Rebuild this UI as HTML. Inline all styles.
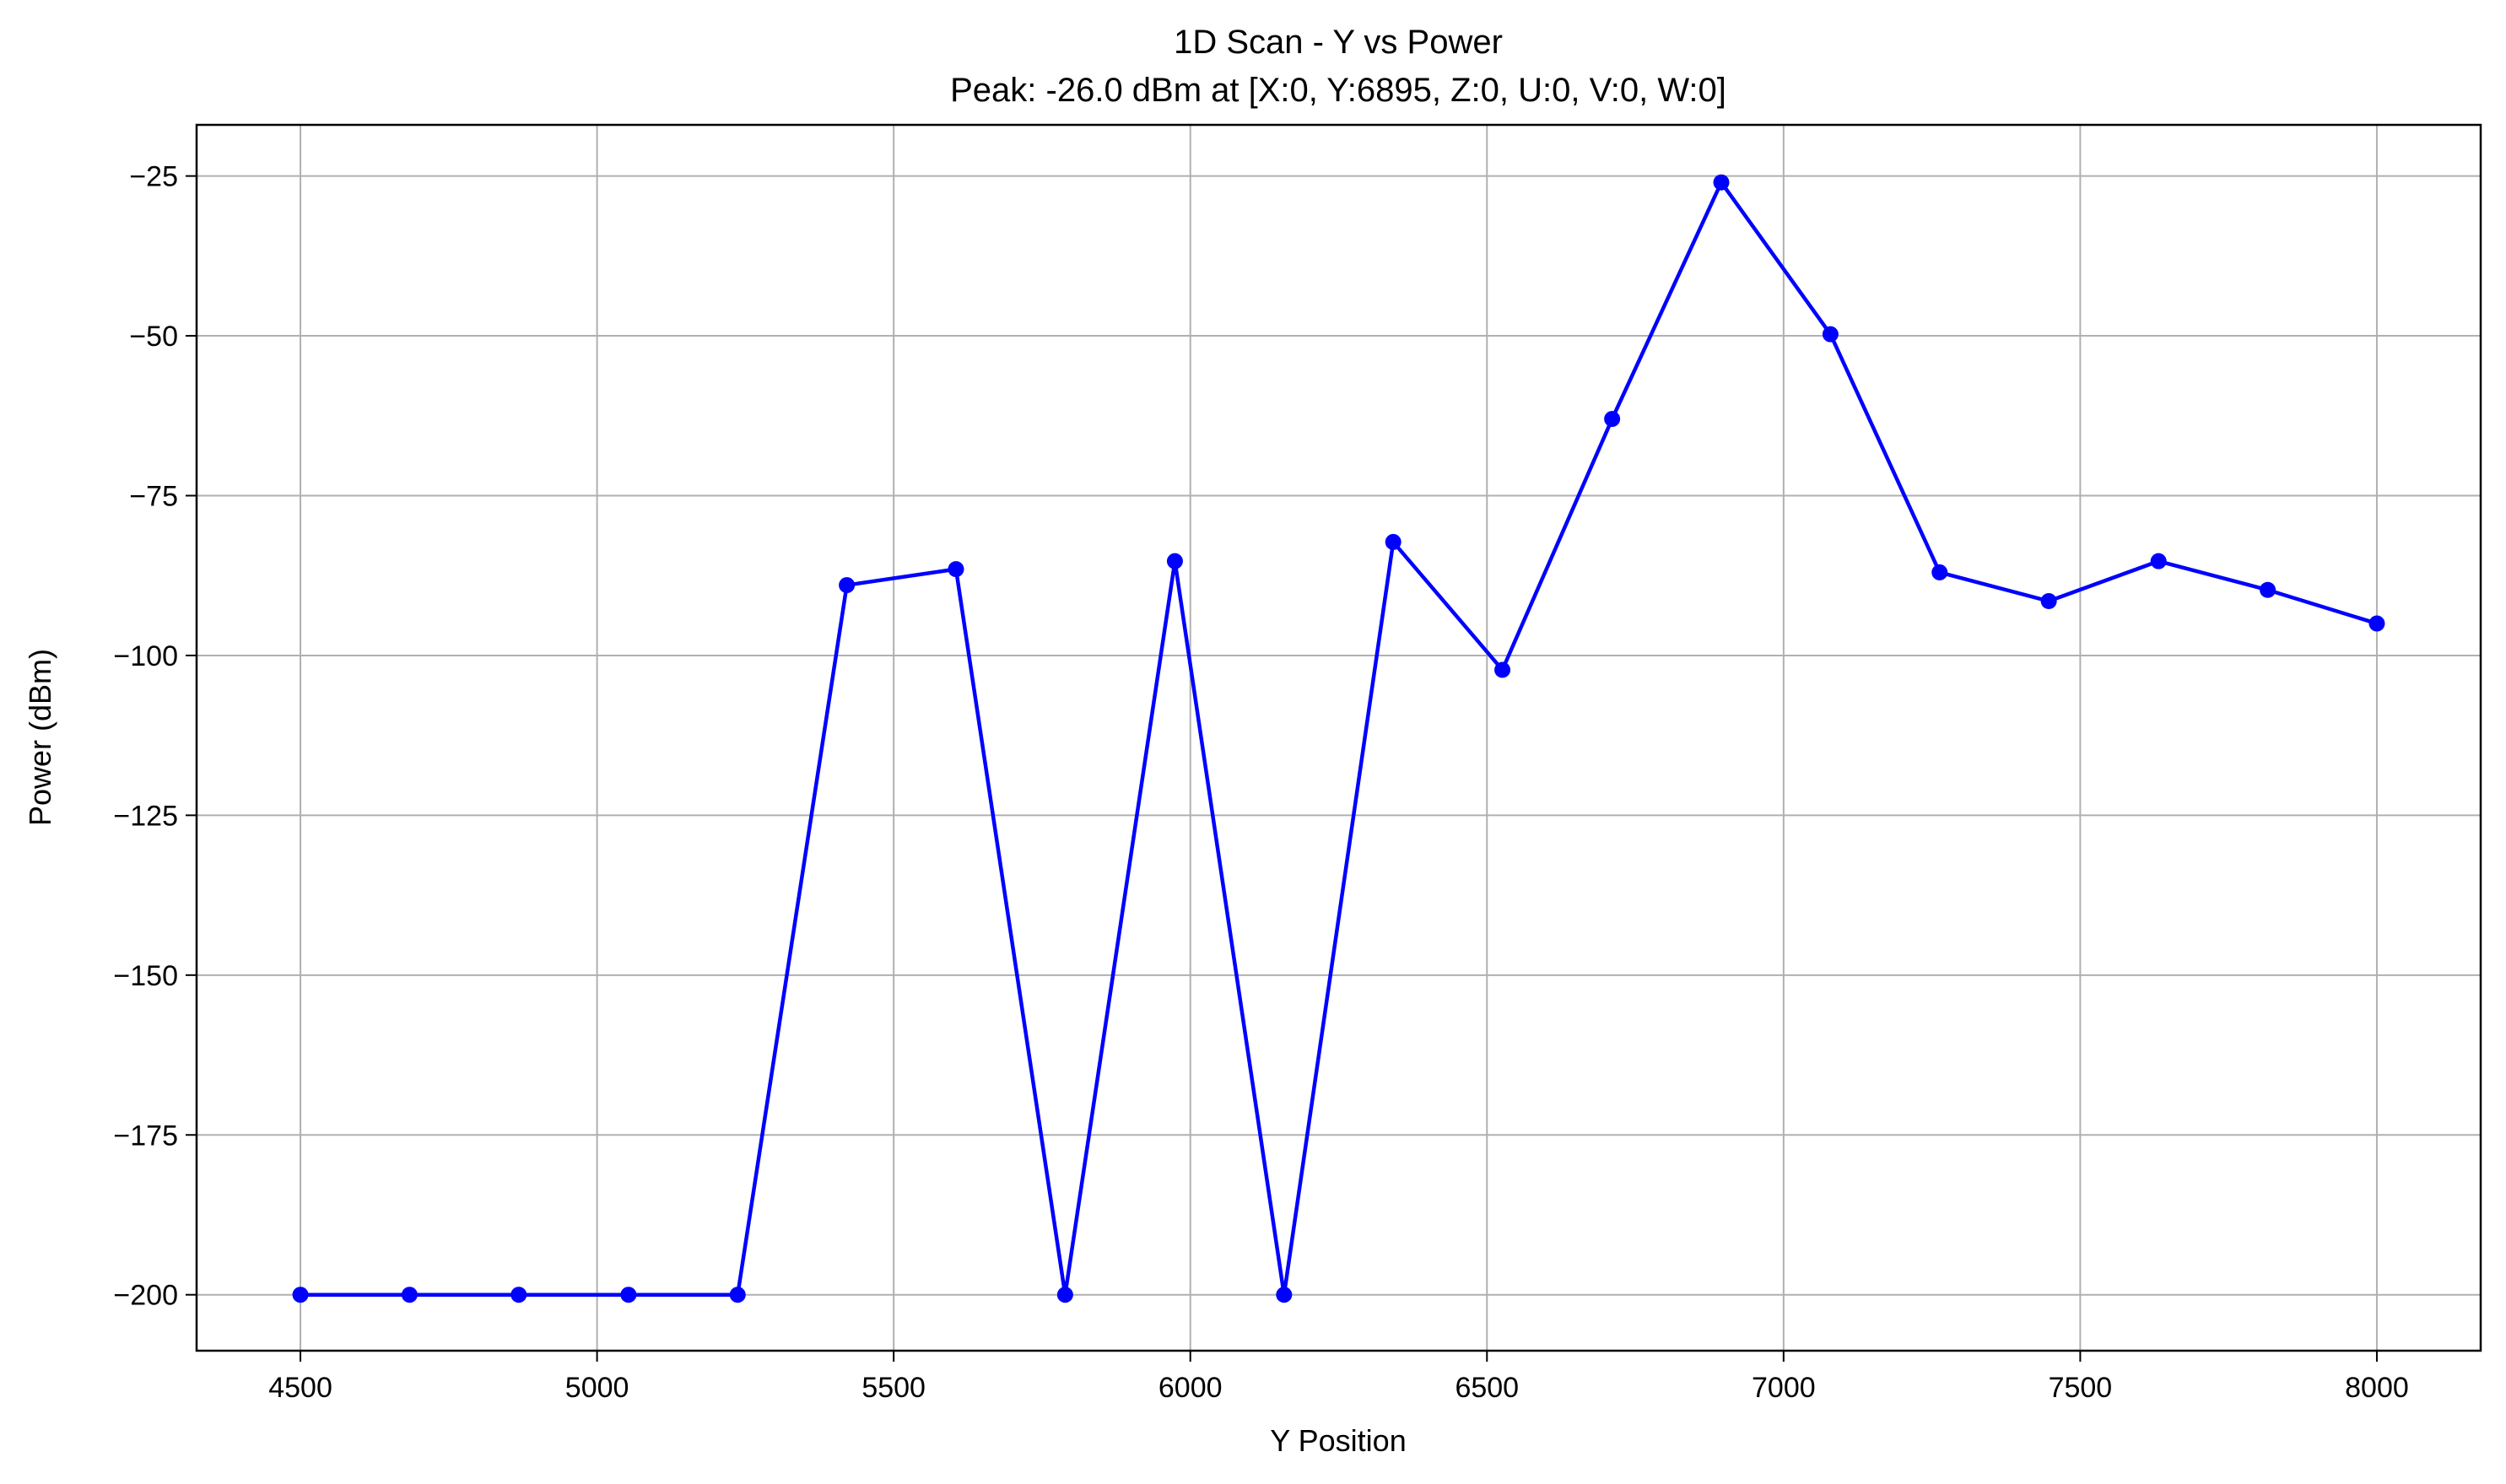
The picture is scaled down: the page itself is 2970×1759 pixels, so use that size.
<!DOCTYPE html>
<html><head><meta charset="utf-8"><style>
html,body{margin:0;padding:0;background:#fff;}
svg{display:block;font-family:"Liberation Sans","DejaVu Sans",sans-serif;}
</style></head><body>
<svg id="chart" width="2970" height="1759" viewBox="0 0 2970 1759" xmlns="http://www.w3.org/2000/svg">
<rect width="2970" height="1759" fill="#fff"/>
<text x="1586" y="63" font-size="40" text-anchor="middle" fill="#000">1D Scan - Y vs Power</text>
<text x="1586" y="120" font-size="40" text-anchor="middle" fill="#000">Peak: -26.0 dBm at [X:0, Y:6895, Z:0, U:0, V:0, W:0]</text>
<g id="grid"></g>
<g id="series"></g>
<rect x="233" y="148" width="2707" height="1453" fill="none" stroke="#000" stroke-width="2.5"/>
<g id="ticks"></g>
<text x="1586" y="1720" font-size="36" text-anchor="middle" fill="#000">Y Position</text>
<text x="60" y="874" font-size="36" text-anchor="middle" fill="#000" transform="rotate(-90 60 874)">Power (dBm)</text>
</svg>
<script>
const positions = [4500,4684,4868,5053,5237,5421,5605,5789,5974,6158,6342,6526,6711,6895,7079,7263,7447,7632,7816,8000];
const power = [-200,-200,-200,-200,-200,-89,-86.5,-200,-85.25,-200,-82.25,-102.25,-63,-26,-49.75,-87,-91.5,-85.25,-89.75,-95];
const xTicks = [4500,5000,5500,6000,6500,7000,7500,8000];
const yTicks = [-25,-50,-75,-100,-125,-150,-175,-200];

const L=233,R=2940,T=148,B=1601;
const xMin=4325,xMax=8175,yMin=-208.75,yMax=-17;
const xs=v=>L+(v-xMin)/(xMax-xMin)*(R-L);
const ys=v=>B-(v-yMin)/(yMax-yMin)*(B-T);
const NS="http://www.w3.org/2000/svg";
const grid=document.getElementById('grid'),ticks=document.getElementById('ticks'),series=document.getElementById('series');
function mk(tag,attrs,parent){const e=document.createElementNS(NS,tag);for(const k in attrs)e.setAttribute(k,attrs[k]);parent.appendChild(e);return e;}
xTicks.forEach(t=>{
  const x=xs(t);
  const g=mk('line',{x1:x,x2:x,y1:T,y2:B,stroke:'#b0b0b0','stroke-width':2},grid);
  
  
  const tk=mk('line',{x1:x,x2:x,y1:B,y2:B+13,stroke:'#000','stroke-width':2},ticks);
  
  
  const lb=mk('text',{x:x,y:B+55,'font-size':34,'text-anchor':'middle',fill:'#000'},ticks);
  lb.textContent=t;
  
  
});
yTicks.forEach(t=>{
  const y=ys(t);
  const g=mk('line',{x1:L,x2:R,y1:y,y2:y,stroke:'#b0b0b0','stroke-width':2},grid);
  
  
  const tk=mk('line',{x1:L-13,x2:L,y1:y,y2:y,stroke:'#000','stroke-width':2},ticks);
  
  
  const lb=mk('text',{x:L-22,y:y+12,'font-size':34,'text-anchor':'end',fill:'#000'},ticks);
  lb.textContent='\u2212'+Math.abs(t);
  
  
});
const pts=positions.map((p,i)=>xs(p)+','+ys(power[i])).join(' ');
const line=mk('polyline',{points:pts,fill:'none',stroke:'#0000ff','stroke-width':4.5,'stroke-linejoin':'round'},series);


positions.forEach((p,i)=>{
  const c=mk('circle',{cx:xs(p),cy:ys(power[i]),r:9.5,fill:'#0000ff'},series);
  
  
});
</script>
</body></html>
